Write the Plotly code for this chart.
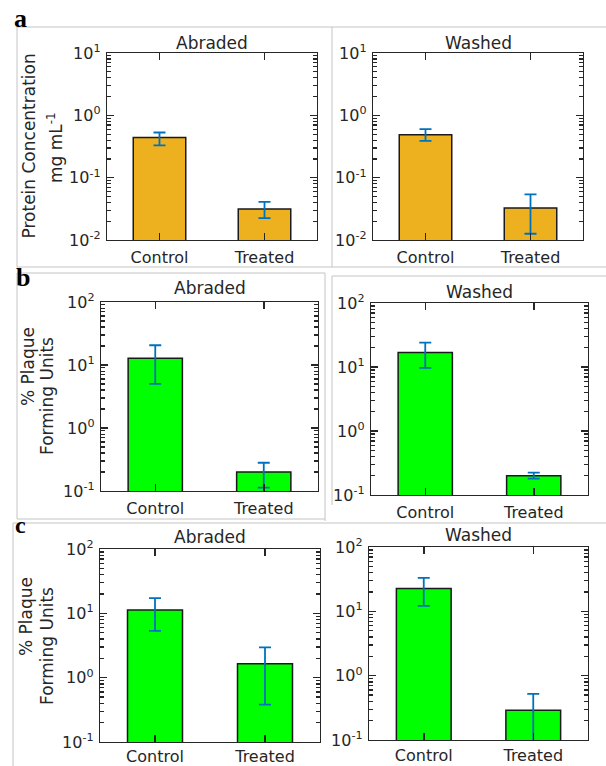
import plotly.graph_objects as go

W, H = 606, 766

# ---------------- data ----------------
categories = ["Control", "Treated"]

a_abraded_mean = [0.44, 0.0315]
a_abraded_hi = [0.53, 0.041]
a_abraded_lo = [0.33, 0.0225]

a_washed_mean = [0.49, 0.0326]
a_washed_hi = [0.60, 0.054]
a_washed_lo = [0.388, 0.0126]

b_abraded_mean = [12.8, 0.20]
b_abraded_hi = [20.6, 0.281]
b_abraded_lo = [5.0, 0.113]

b_washed_mean = [16.8, 0.20]
b_washed_hi = [24.1, 0.223]
b_washed_lo = [9.7, 0.18]

c_abraded_mean = [11.3, 1.64]
c_abraded_hi = [17.2, 2.95]
c_abraded_lo = [5.35, 0.38]

c_washed_mean = [22.6, 0.29]
c_washed_hi = [33.1, 0.52]
c_washed_lo = [12.2, 0.05]

protein_tickvals = [0.01, 0.1, 1, 10]
protein_ticktext = ["10<sup>-2</sup>", "10<sup>-1</sup>", "10<sup>0</sup>", "10<sup>1</sup>"]
pfu_tickvals = [0.1, 1, 10, 100]
pfu_ticktext = ["10<sup>-1</sup>", "10<sup>0</sup>", "10<sup>1</sup>", "10<sup>2</sup>"]

ORANGE = "#EDB120"
GREEN = "#00FF00"
ERR = "#0072BD"
AX = "#262626"
FRAME = "#c4c4c4"
FONT = "DejaVu Sans"

# panel specs: (mean, hi, lo, color, box px (x0,x1,y0,y1), tickvals, ticktext, title, title y, label standoff)
panels = [
    (a_abraded_mean, a_abraded_hi, a_abraded_lo, ORANGE, (107, 317, 53, 240), protein_tickvals, protein_ticktext, "Abraded", 43, 3),
    (a_washed_mean, a_washed_hi, a_washed_lo, ORANGE, (373, 583, 53, 240), protein_tickvals, protein_ticktext, "Washed", 43, 3),
    (b_abraded_mean, b_abraded_hi, b_abraded_lo, GREEN, (101, 318, 302, 491), pfu_tickvals, pfu_ticktext, "Abraded", 288, 3),
    (b_washed_mean, b_washed_hi, b_washed_lo, GREEN, (371, 588, 303, 495), pfu_tickvals, pfu_ticktext, "Washed", 292, 3),
    (c_abraded_mean, c_abraded_hi, c_abraded_lo, GREEN, (100, 320, 549, 742), pfu_tickvals, pfu_ticktext, "Abraded", 537, 0),
    (c_washed_mean, c_washed_hi, c_washed_lo, GREEN, (369, 588, 547, 740), pfu_tickvals, pfu_ticktext, "Washed", 535, 1),
]

def px2x(p):
    return p / W

def px2y(p):
    return 1 - p / H

fig = go.Figure()
annotations = []
layout_axes = {}

for i, (mean, hi, lo, color, box, tv, tt, title, ty, so) in enumerate(panels, start=1):
    xs = "" if i == 1 else str(i)
    up = [h - m for h, m in zip(hi, mean)]
    dn = [m - l for m, l in zip(mean, lo)]
    fig.add_trace(go.Bar(
        x=categories, y=mean, width=0.5,
        marker=dict(color=color, line=dict(color="#1a1a1a", width=1.5)),
        error_y=dict(type="data", array=up, arrayminus=dn, color=ERR, thickness=1.8, width=6),
        xaxis="x" + xs, yaxis="y" + xs, showlegend=False, hoverinfo="skip",
    ))
    x0, x1, y0, y1 = box
    layout_axes["xaxis" + xs] = dict(
        domain=[px2x(x0), px2x(x1)], anchor="y" + xs, type="category", automargin=False,
        range=[-0.5, 1.5], showline=True, linecolor=AX, linewidth=1.2, mirror="ticks",
        ticks="inside", ticklen=7, tickwidth=1.5, tickcolor=AX, showgrid=False, zeroline=False,
        tickfont=dict(family=FONT, size=16, color=AX), layer="above traces",
        ticklabelstandoff=so,
    )
    lo_exp = -2 if tv[0] == 0.01 else -1
    minor_vals = [m * 10.0 ** e for e in range(lo_exp, lo_exp + 3) for m in range(2, 10)]
    layout_axes["yaxis" + xs] = dict(
        domain=[px2y(y1), px2y(y0)], anchor="x" + xs, type="log", automargin=False,
        range=[lo_exp, lo_exp + 3], showline=True, linecolor=AX, linewidth=1.2, mirror="ticks",
        ticks="inside", ticklen=7, tickwidth=1.5, tickcolor=AX, showgrid=False, zeroline=False,
        tickmode="array", tickvals=tv, ticktext=tt, layer="above traces",
        tickfont=dict(family=FONT, size=16, color=AX), ticklabelstandoff=2,
        minor=dict(ticks="inside", ticklen=4, tickwidth=1.2, tickcolor=AX, tickmode="array",
                   tickvals=minor_vals, showgrid=False),
    )
    annotations.append(dict(
        text=title, x=px2x((x0 + x1) / 2), y=px2y(ty), xref="paper", yref="paper",
        xanchor="center", yanchor="middle", showarrow=False,
        font=dict(family=FONT, size=17, color=AX),
    ))

# y-axis titles
ytitles = [
    ("Protein Concentration", 28.5, 146),
    ("mg mL<sup>-1</sup>", 55, 148),
    ("% Plaque", 28, 367),
    ("Forming Units", 47, 396),
    ("% Plaque", 26, 617),
    ("Forming Units", 47, 646),
]
for txt, xp, yp in ytitles:
    annotations.append(dict(
        text=txt, x=px2x(xp), y=px2y(yp), xref="paper", yref="paper",
        xanchor="center", yanchor="middle", showarrow=False, textangle=-90,
        font=dict(family=FONT, size=17, color=AX),
    ))

# panel letters
for txt, xp, yp, sz in [("a", 12, 19, 26), ("b", 14, 278, 26), ("c", 13, 525, 24)]:
    annotations.append(dict(
        text="<b>%s</b>" % txt, x=px2x(xp), y=px2y(yp), xref="paper", yref="paper",
        xanchor="left", yanchor="middle", showarrow=False,
        font=dict(family="Liberation Serif", size=sz, color="#000000"),
    ))

# frame lines (decorative panel borders)
segments = [
    (17, 27, 606, 27), (17, 27, 17, 267), (17, 267, 606, 267), (332, 27, 332, 267),
    (17, 273, 325, 273), (17, 273, 17, 519), (325, 273, 325, 521), (17, 519, 325, 519),
    (332, 276, 606, 276), (332, 276, 332, 505),
    (13, 523, 606, 523), (13, 523, 13, 766),
]
shapes = [dict(type="line", xref="paper", yref="paper",
               x0=px2x(a), y0=px2y(b), x1=px2x(c), y1=px2y(d),
               line=dict(color=FRAME, width=1)) for a, b, c, d in segments]

fig.update_layout(
    template="none",
    width=W, height=H, margin=dict(l=0, r=0, t=0, b=0, pad=0), autosize=False,
    paper_bgcolor="white", plot_bgcolor="white", hovermode=False,
    annotations=annotations, shapes=shapes, bargap=0, **layout_axes,
)

fig.write_html(
    "out.html",
    config={"displayModeBar": False, "staticPlot": True},
    post_script="document.body.style.margin='0';document.body.style.overflow='hidden';",
)
